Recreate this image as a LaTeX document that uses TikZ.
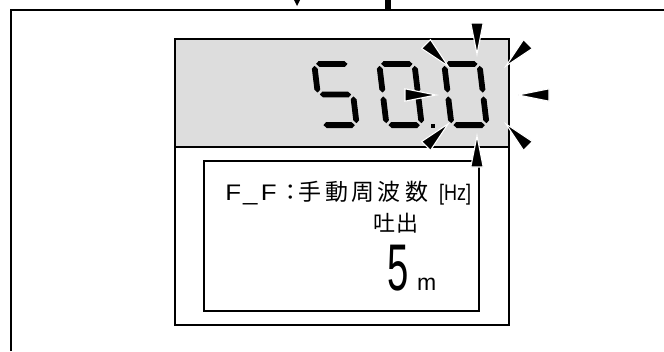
\documentclass[tikz,border=0pt]{standalone}
\usepackage{fontspec}
\newfontfamily\jpfont{Noto Sans CJK JP}
\newfontfamily\latfont{Liberation Sans}
\definecolor{lcdgray}{RGB}{221,221,221}
\newcommand\chat[2]{\rlap{\hspace*{#1pt}\makebox[0pt][c]{#2}}}
\newcommand\sgH[3]{\fill ({#1},{#3}) -- ({#1+2.9},{#3+2.9}) -- ({#2-2.9},{#3+2.9}) -- ({#2},{#3}) -- ({#2-2.9},{#3-2.9}) -- ({#1+2.9},{#3-2.9}) -- cycle;}
\newcommand\sgV[3]{\fill ({#3},{#1}) -- ({#3+2.9},{#1+2.9}) -- ({#3+2.9},{#2-2.9}) -- ({#3},{#2}) -- ({#3-2.9},{#2-2.9}) -- ({#3-2.9},{#1+2.9}) -- cycle;}
\newcommand\sgA{\sgH{4.8}{36.2}{64.1}}
\newcommand\sgD{\sgH{4.8}{36.2}{2.9}}
\newcommand\sgG{\sgH{4.8}{36.2}{33.5}}
\newcommand\sgF{\sgV{35.4}{62.2}{2.9}}
\newcommand\sgE{\sgV{4.8}{31.6}{2.9}}
\newcommand\sgB{\sgV{35.4}{62.2}{38.1}}
\newcommand\sgC{\sgV{4.8}{31.6}{38.1}}
\tikzset{
  digitpos/.style={shift={#1}, yscale=-1, xslant=0.12},
  spike/.style={fill=black, draw=white, line width=1.1pt, line join=miter},
  frameline/.style={line width=2pt, black},
}
\begin{document}
\begin{tikzpicture}[x=1pt,y=-1pt]
\useasboundingbox (0,0) rectangle (664,351);
% outer frame
\draw[frameline] (11,351) -- (11,10) -- (664,10);
\fill (294,0) -- (300,0) -- (297,6) -- cycle;
\fill (385,0) rectangle (391,9);
% display box
\fill[lcdgray] (175,39) rectangle (509,147);
\draw[line width=2.4pt] (175,39) rectangle (509,325);
\draw[line width=2.4pt] (175,147) -- (509,147);
\draw[line width=1.3pt] (204,161) rectangle (479,311);
% seven segment digits
\begin{scope}[digitpos={(319,128)}]
  \sgA \sgF \sgG \sgC \sgD
\end{scope}
\begin{scope}[digitpos={(384,128)}]
  \sgA \sgB \sgC \sgD \sgE \sgF
\end{scope}
\fill (430.5,124) rectangle (434.5,128);
\begin{scope}[digitpos={(449,128)}]
  \sgA \sgB \sgC \sgD \sgE \sgF
\end{scope}
% flashing spikes
\foreach \ang in {0,45,90,135,180,225,270,315}{
  \begin{scope}[shift={(477,95)}, rotate=\ang]
    \filldraw[spike] (41,0) -- (72,-6.2) -- (72,6.2) -- cycle;
  \end{scope}
}
% texts
\node[anchor=base west, inner sep=0, font=\latfont\fontsize{22.5}{22.5}\selectfont] (lbl) at (225,200)
  {\chat{7.5}{\scalebox{1.15}[1]{F}}\chat{24.5}{\scalebox{1.15}[1]{\_}}\chat{43}{\scalebox{1.15}[1]{F}}\chat{65}{\jpfont ：}\chat{84}{\jpfont\fontsize{23}{23}\selectfont 手}\chat{111}{\jpfont\fontsize{23}{23}\selectfont 動}\chat{137}{\jpfont\fontsize{23}{23}\selectfont 周}\chat{163}{\jpfont\fontsize{23}{23}\selectfont 波}\chat{191}{\jpfont\fontsize{23}{23}\selectfont 数}\chat{229.5}{\scalebox{0.8}[1]{[Hz]}}};
\node[anchor=base, inner sep=0, font=\jpfont\fontsize{22}{22}\selectfont] (dis) at (396,231) {吐\hspace{1pt}出};
\node[anchor=base, inner sep=0, font=\latfont\fontsize{66}{66}\selectfont] (num) at (398,290) {\scalebox{0.58}[1]{5}};
\node[anchor=base west, inner sep=0, font=\latfont\fontsize{23}{23}\selectfont] (unit) at (417,290) {m};
\end{tikzpicture}
\end{document}
